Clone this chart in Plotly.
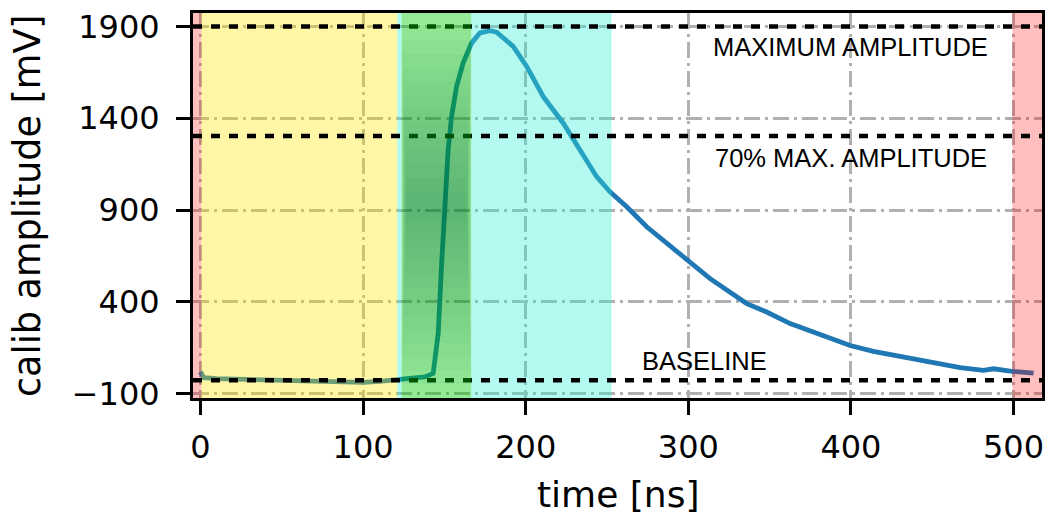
import plotly.graph_objects as go

# ---- data ----
time_ns = [0, 2, 10, 30, 50, 70, 90, 100, 110, 120, 130, 138, 143.1, 144.5, 146.2, 148.2,
           150.3, 152.3, 154.4, 157.5, 161.5, 166.7, 171.8, 178, 182.1, 192.3, 200.6,
           210.8, 223.1, 233.4, 243.6, 251.8, 262.1, 274.4, 286.7, 300, 313.4, 335.9,
           348.2, 362.6, 379, 399.5, 413.8, 434.4, 450.8, 467.2, 481.5, 487.7, 498, 512.3]
amp_mV = [20, -12, -18, -22, -28, -33, -37, -38, -32, -25, -18, -8, 11, 100, 229, 591,
          955, 1227, 1409, 1573, 1700, 1809, 1864, 1877, 1869, 1791, 1682,
          1518, 1373, 1227, 1082, 1000, 918, 809, 718, 618, 527, 391,
          345, 282, 227, 163, 131, 96, 69, 42, 27, 36, 23, 12]

baseline_mV = -26
max_amp_mV = 1900
amp70_mV = 1304

# shaded windows (ns)
red_windows = [(-4.6, 0.5), (499.3, 517.5)]
yellow_window = (0.5, 121.0)
cyan_windows = [(121.0, 123.7), (166.5, 252.8)]
green_window = (123.7, 166.5)

x_ticks = [0, 100, 200, 300, 400, 500]
y_ticks = [-100, 400, 900, 1400, 1900]
x_range = [-4.6, 517.5]
y_range = [-123, 1973]

labels = ["MAXIMUM AMPLITUDE", "70% MAX. AMPLITUDE", "BASELINE"]
label_x = [400, 400, 310]
label_y = [1787, 1186, 80]

# ---- figure ----
fig = go.Figure()
fig.add_trace(go.Scatter(x=time_ns, y=amp_mV, mode="lines",
                         line=dict(color="#1f77b4", width=4.8), showlegend=False))

shapes = []
def band(x0, x1, color):
    return dict(type="rect", xref="x", yref="paper", x0=x0, x1=x1, y0=0, y1=1,
                fillcolor=color, line=dict(width=0), layer="above")

for a, b in red_windows:
    shapes.append(band(a, b, "rgba(255,0,0,0.25)"))
shapes.append(band(yellow_window[0], yellow_window[1], "rgba(255,230,0,0.35)"))
for a, b in cyan_windows:
    shapes.append(band(a, b, "rgba(50,240,215,0.37)"))

for yv in [max_amp_mV, amp70_mV, baseline_mV]:
    shapes.append(dict(type="line", xref="paper", yref="y", x0=0, x1=1, y0=yv, y1=yv,
                       line=dict(color="black", width=4.5, dash="9px,9px"), layer="above"))

shapes.append(band(green_window[0], green_window[1], "rgba(0,215,0,0.4)"))
# darker gradient inside the green window
n_layers = 14
gx0, gx1 = green_window
ymid = (y_range[0] + y_range[1]) / 2
half = (y_range[1] - y_range[0]) / 2
for i in range(n_layers):
    f = i / n_layers
    shapes.append(dict(type="rect", xref="x", yref="y",
                       x0=gx0 + f * 3, x1=gx1 - f * 3,
                       y0=ymid - half * (1 - f), y1=ymid + half * (1 - f),
                       fillcolor="rgba(10,90,60,0.03)", line=dict(width=0), layer="above"))

annotations = []
for t, x, y in zip(labels, label_x, label_y):
    annotations.append(dict(text=t, x=x, y=y, xref="x", yref="y", showarrow=False,
                            xanchor="center", yanchor="middle",
                            font=dict(family="Liberation Sans, Arial", size=25.5, color="black")))

annotations.append(dict(text="time [ns]", x=0.5, y=-0.25, xref="paper", yref="paper",
                        showarrow=False, xanchor="center", yanchor="middle",
                        font=dict(family="DejaVu Sans", size=36, color="black")))
annotations.append(dict(text="calib amplitude [mV]", x=-0.195, y=0.5, xref="paper", yref="paper",
                        showarrow=False, xanchor="center", yanchor="middle", textangle=-90,
                        font=dict(family="DejaVu Sans", size=36.5, color="black")))

grid = dict(showgrid=True, gridcolor="#b0b0b0", gridwidth=3, griddash="16px,5px,3px,5px")
axis_common = dict(showline=True, linecolor="black", linewidth=3, mirror=True,
                   ticks="outside", ticklen=14, tickwidth=2.5, tickcolor="black",
                   zeroline=False, automargin=False,
                   tickfont=dict(family="DejaVu Sans", size=32, color="black"),
                   **grid)

fig.update_layout(
    width=1051, height=515,
    margin=dict(l=193, r=9, t=13, b=117, autoexpand=False),
    paper_bgcolor="white", plot_bgcolor="white",
    shapes=shapes, annotations=annotations,
    xaxis=dict(range=x_range, tickvals=x_ticks, ticklabelstandoff=5, **axis_common),
    yaxis=dict(range=y_range, tickvals=y_ticks, ticklabelstandoff=10, **axis_common),
)

fig.write_html("out.html", config={"displayModeBar": False},
               post_script="document.body.style.margin='0px';document.body.style.overflow='hidden';")
